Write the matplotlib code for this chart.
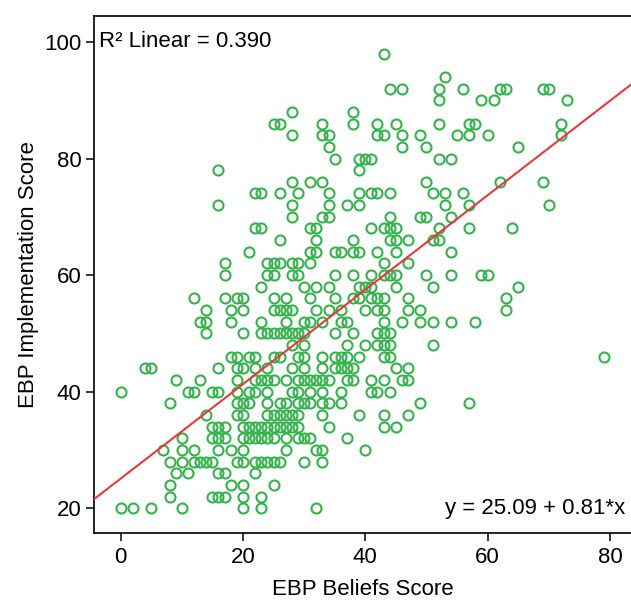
import matplotlib
matplotlib.use("Agg")
import matplotlib.pyplot as plt
import numpy as np

# EBP Implementation Score levels and the EBP Beliefs Scores observed at each level
impl_levels = [98, 94, 92, 90, 88, 86, 84, 82, 80, 78, 76, 74, 72, 70, 68, 66, 64, 62, 60,
               58, 56, 54, 52, 50, 48, 46, 44, 42, 40, 38, 36, 34, 32, 30, 28, 26, 24, 22, 20]
beliefs_at_level = [
    [43],
    [53],
    [44, 46, 52, 56, 62, 63, 69, 70],
    [52, 59, 61, 73],
    [28, 38],
    [25, 26, 33, 38, 42, 45, 52, 57, 58, 72],
    [28, 33, 34, 42, 43, 46, 49, 55, 57, 60, 72],
    [34, 46, 50, 65],
    [35, 39, 40, 41, 52, 54],
    [16, 39],
    [28, 31, 33, 50, 62, 69],
    [22, 23, 26, 29, 34, 39, 41, 42, 44, 51, 53, 56],
    [16, 28, 34, 37, 39, 53, 57, 70],
    [28, 33, 34, 44, 49, 50, 54],
    [22, 23, 31, 32, 41, 43, 44, 45, 52, 57, 64],
    [26, 32, 38, 44, 45, 47, 51, 52],
    [21, 31, 32, 35, 36, 38, 39, 42, 45, 54],
    [17, 24, 25, 26, 28, 29, 31, 43, 47],
    [17, 24, 25, 28, 29, 35, 38, 41, 43, 44, 45, 50, 54, 59, 60],
    [23, 30, 32, 34, 39, 40, 41, 45, 51, 65],
    [12, 17, 19, 20, 25, 27, 31, 35, 38, 39, 41, 42, 43, 47, 63],
    [14, 18, 20, 25, 26, 27, 28, 32, 34, 36, 40, 42, 43, 47, 49, 63],
    [13, 14, 18, 23, 27, 30, 31, 33, 36, 37, 43, 46, 49, 51, 54, 58],
    [14, 20, 23, 24, 25, 26, 27, 28, 29, 30, 35, 38, 42, 43, 44],
    [28, 30, 37, 40, 42, 43, 44, 51],
    [18, 19, 21, 22, 25, 26, 29, 30, 33, 35, 36, 37, 39, 43, 44, 79],
    [4, 5, 16, 19, 20, 22, 24, 28, 30, 33, 35, 36, 37, 38, 45, 47],
    [9, 13, 19, 22, 23, 24, 25, 27, 29, 30, 31, 32, 33, 34, 37, 38, 41, 43, 46, 47],
    [0, 11, 12, 15, 16, 19, 21, 22, 24, 28, 29, 31, 33, 36, 41, 42, 44],
    [8, 19, 20, 21, 24, 26, 27, 29, 30, 31, 33, 34, 36, 49, 57],
    [14, 19, 20, 24, 25, 26, 27, 28, 29, 33, 39, 43, 47],
    [15, 16, 17, 20, 21, 22, 23, 24, 25, 26, 27, 28, 29, 34, 43, 45],
    [10, 15, 16, 17, 20, 21, 22, 23, 24, 25, 27, 29, 30, 31, 37],
    [7, 10, 12, 16, 18, 20, 27, 32, 33, 40],
    [8, 10, 12, 13, 14, 15, 19, 20, 22, 23, 24, 25, 26, 30, 33],
    [9, 11, 16, 17, 22],
    [8, 18, 20, 25],
    [8, 15, 16, 17, 20, 23],
    [0, 2, 5, 10, 20, 23, 32],
]

fit_intercept = 25.09
fit_slope = 0.81
r_squared = 0.390

x_ticks = [0, 20, 40, 60, 80]
y_ticks = [20, 40, 60, 80, 100]

beliefs = np.concatenate([np.array(b, dtype=float) for b in beliefs_at_level])
implementation = np.concatenate([np.full(len(b), lvl, dtype=float)
                                 for lvl, b in zip(impl_levels, beliefs_at_level)])

plt.rcParams['font.family'] = ['Liberation Sans', 'DejaVu Sans']

fig = plt.figure(figsize=(6.31, 6.01), dpi=100)
ax = fig.add_axes([0.1490, 0.1131, 0.8510, 0.8608])

xlim = (-4.35, 83.45)
ylim = (15.76, 104.5)

ax.plot(beliefs, implementation, linestyle='none', marker='o', markersize=7.2,
        markerfacecolor='none', markeredgecolor='#33b44a', markeredgewidth=1.5, zorder=3)

xs = np.array(xlim)
ax.plot(xs, fit_intercept + fit_slope * xs, color='#e8383d', linewidth=1.5, zorder=4)

ax.set_xlim(*xlim)
ax.set_ylim(*ylim)
ax.set_xticks(x_ticks)
ax.set_yticks(y_ticks)

for side in ['left', 'bottom', 'top']:
    ax.spines[side].set_linewidth(1.2)
    ax.spines[side].set_color('black')
ax.spines['right'].set_visible(False)

ax.tick_params(axis='both', direction='out', length=6, width=1.1, labelsize=16,
               color='black', labelcolor='black')
ax.tick_params(axis='x', pad=4)
ax.tick_params(axis='y', pad=3)

ax.set_xlabel('EBP Beliefs Score', fontsize=16, labelpad=8)
ax.set_ylabel('EBP Implementation Score', fontsize=16, labelpad=3.5)

ax.text(0.01, 0.951, 'R\u00b2 Linear = %.3f' % r_squared, transform=ax.transAxes,
        fontsize=16, ha='left', va='center')
ax.text(0.989, 0.048, 'y = %.2f + %.2f*x' % (fit_intercept, fit_slope), transform=ax.transAxes,
        fontsize=16, ha='right', va='center')

fig.savefig('out.png', dpi=100)
